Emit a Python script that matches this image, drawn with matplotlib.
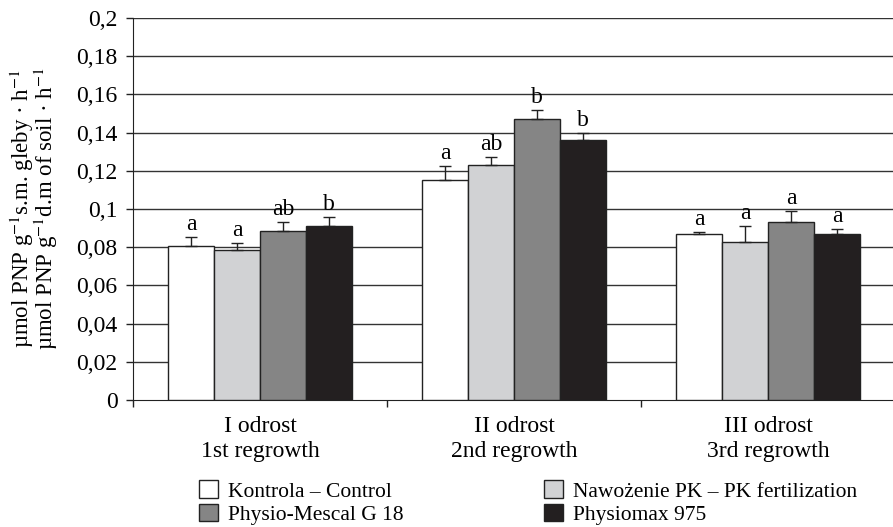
import numpy as np
import matplotlib.pyplot as plt
import matplotlib.transforms as mtransforms
from matplotlib.patches import Patch

plt.rcParams['font.family'] = ['Liberation Serif', 'DejaVu Serif']
plt.rcParams['mathtext.fontset'] = 'stix'

groups = ['I odrost\n1st regrowth', 'II odrost\n2nd regrowth', 'III odrost\n3rd regrowth']
series = ['Kontrola – Control', 'Nawożenie PK – PK fertilization',
          'Physio-Mescal G 18', 'Physiomax 975']
colors = ['#ffffff', '#d1d2d4', '#858585', '#231f20']

# mean values per series (rows) for each regrowth (columns)
values = [
    [0.0805, 0.115, 0.0868],
    [0.0785, 0.123, 0.0827],
    [0.0885, 0.147, 0.093],
    [0.0910, 0.136, 0.0868],
]
errors = [
    [0.0048, 0.0075, 0.0012],
    [0.0035, 0.0042, 0.0083],
    [0.0045, 0.0050, 0.0060],
    [0.0050, 0.0038, 0.0027],
]
letters = [
    ['a', 'a', 'a'],
    ['a', 'ab', 'a'],
    ['ab', 'b', 'a'],
    ['b', 'b', 'a'],
]

fig = plt.figure(figsize=(8.93, 5.27), dpi=100)
ax = fig.add_axes([133 / 893, 127 / 527, 762 / 893, 382 / 527])

x = np.arange(len(groups))
w = 0.181
for i in range(len(series)):
    pos = x + (i - 1.5) * w
    err = [np.zeros(len(groups)), errors[i]]
    ax.bar(pos, values[i], w, color=colors[i], edgecolor='#222222', linewidth=1.0,
           yerr=err, error_kw=dict(ecolor='#222222', elinewidth=1.0, capsize=4, capthick=1.0),
           zorder=3)
    for j in range(len(groups)):
        ax.text(pos[j], values[i][j] + errors[i][j] + 0.001, letters[i][j],
                ha='center', va='bottom', fontsize=17)

ax.set_ylim(0, 0.2)
ax.set_xlim(-0.5, 2.5)
yt = np.arange(0, 0.201, 0.02)
ax.set_yticks(yt)
ax.set_yticklabels(['0'] + [('%g' % v).replace('.', ',') for v in yt[1:]], fontsize=17)
for v in yt[1:]:
    ax.axhline(v, color='#333333', linewidth=1.0, zorder=1)

ax.set_xticks([-0.5, 0.5, 1.5, 2.5])
ax.set_xticklabels([])
ax.tick_params(axis='both', direction='out', length=5, width=1, color='#222222', pad=6)
trans = mtransforms.blended_transform_factory(ax.transData, ax.transAxes)
for j, g in enumerate(groups):
    ax.text(x[j], -0.043, g, ha='center', va='top', fontsize=17,
            transform=trans, linespacing=1.25)

ax.spines['top'].set_visible(False)
ax.spines['right'].set_visible(False)
ax.spines['left'].set_color('#222222')
ax.spines['bottom'].set_color('#222222')

ax.set_ylabel('µmol PNP g$^{-1}$s.m. gleby · h$^{-1}$\nµmol PNP g$^{-1}$d.m of soil · h$^{-1}$',
              fontsize=16.5, linespacing=0.8, labelpad=12)

handles = [Patch(facecolor=c, edgecolor='#222222', linewidth=1.0) for c in colors]
order = [0, 2, 1, 3]
fig.legend([handles[k] for k in order], [series[k] for k in order], ncol=2,
           loc='lower left', bbox_to_anchor=(199 / 893, 0.004), frameon=False,
           fontsize=15.5, handlelength=0.9, handleheight=0.9, handletextpad=0.45,
           columnspacing=6.5, labelspacing=0.08, borderaxespad=0.0, borderpad=0.0)

fig.savefig('out.png', dpi=100)
